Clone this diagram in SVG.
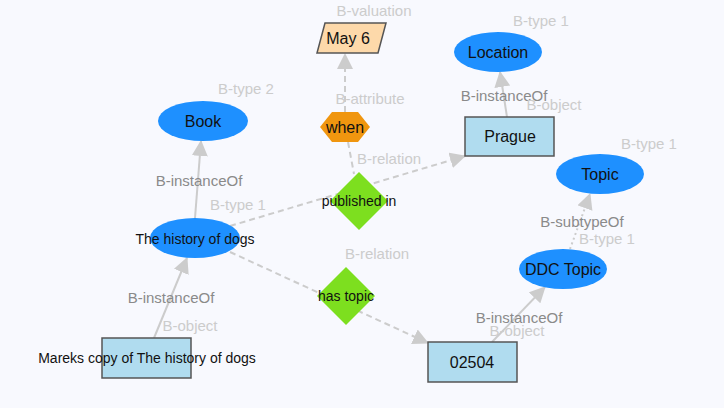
<svg xmlns="http://www.w3.org/2000/svg" width="724" height="408" viewBox="0 0 724 408">
<defs>
<marker id="ah" markerUnits="userSpaceOnUse" markerWidth="16" markerHeight="16" refX="15" refY="8" orient="auto" viewBox="0 0 16 16">
<path d="M0,0 L16,8 L0,16 z" fill="#cccccc"/>
</marker>
</defs>
<style>
text{font-family:"Liberation Sans",Arial,sans-serif;}
.nt{font-size:16px;fill:#111;text-anchor:middle;dominant-baseline:central;}
.st{font-size:14px;fill:#111;text-anchor:middle;dominant-baseline:central;}
.el{font-size:15px;fill:#8a8a8a;text-anchor:middle;dominant-baseline:central;}
.ll{font-size:15px;fill:#cccccc;text-anchor:middle;dominant-baseline:central;}
.ell{fill:#1e90ff;}
.box{fill:#b0dcef;stroke:#555;stroke-width:1.5;}
.solid{stroke:#cccccc;stroke-width:2;fill:none;}
.dash{stroke:#cccccc;stroke-width:2;fill:none;stroke-dasharray:6,4;}
.dot{stroke:#cccccc;stroke-width:2;fill:none;stroke-dasharray:2,3;}
</style>
<rect width="724" height="408" fill="#f8f9fe"/>
<g id="connectors">
<line class="dash" x1="345" y1="112" x2="345" y2="54" marker-end="url(#ah)"/>
<line class="dash" x1="348" y1="142" x2="354" y2="174"/>
<line class="solid" x1="507" y1="117" x2="500" y2="72" marker-end="url(#ah)"/>
<line class="solid" x1="195" y1="218" x2="201" y2="141" marker-end="url(#ah)"/>
<line class="dash" x1="230" y1="226" x2="465" y2="156" marker-end="url(#ah)"/>
<line class="dash" x1="230" y1="252" x2="428" y2="343" marker-end="url(#ah)"/>
<line class="solid" x1="154" y1="338" x2="187" y2="258" marker-end="url(#ah)"/>
<line class="dot" x1="570" y1="249" x2="590" y2="194" marker-end="url(#ah)"/>
<line class="solid" x1="492" y1="342" x2="545" y2="287" marker-end="url(#ah)"/>
<text class="ll" x="374" y="10">B-valuation</text>
<text class="ll" x="370" y="98">B-attribute</text>
<text class="ll" x="541" y="20">B-type 1</text>
<text class="el" x="504" y="95">B-instanceOf</text>
<text class="ll" x="554" y="104">B-object</text>
<text class="ll" x="246" y="88">B-type 2</text>
<text class="el" x="199" y="180">B-instanceOf</text>
<text class="ll" x="238" y="204">B-type 1</text>
<text class="ll" x="389" y="158">B-relation</text>
<text class="ll" x="377" y="253">B-relation</text>
<text class="ll" x="649" y="143">B-type 1</text>
<text class="el" x="582" y="221">B-subtypeOf</text>
<text class="ll" x="607" y="238">B-type 1</text>
<text class="el" x="171" y="297">B-instanceOf</text>
<text class="ll" x="190" y="325">B-object</text>
<text class="el" x="519" y="317">B-instanceOf</text>
<text class="ll" x="517" y="330">B-object</text>
</g>
<g id="may6">
<polygon points="325,23 386,23 378,53 317,53" fill="#fdd9aa" stroke="#555" stroke-width="1.5"/>
<text class="nt" x="348" y="38">May 6</text>
</g>
<g id="location">
<ellipse class="ell" cx="498" cy="52" rx="44" ry="20"/>
<text class="nt" x="498" y="52">Location</text>
</g>
<g id="prague">
<rect class="box" x="465" y="117" width="89" height="39"/>
<text class="nt" x="510" y="136">Prague</text>
</g>
<g id="book">
<ellipse class="ell" cx="203" cy="121" rx="45" ry="20"/>
<text class="nt" x="203" y="121">Book</text>
</g>
<g id="history">
<ellipse class="ell" cx="195" cy="238" rx="45" ry="20"/>
<text class="st" x="195" y="239">The history of dogs</text>
</g>
<g id="when">
<polygon points="320,127 332,112 358,112 370,127 358,142 332,142" fill="#f0960f"/>
<text class="nt" x="345" y="127">when</text>
</g>
<g id="publishedin">
<polygon points="359,172 388,201 359,230 330,201" fill="#7ddf1f"/>
<text class="st" x="359" y="201">published in</text>
</g>
<g id="hastopic">
<polygon points="346,267 375,296 346,325 317,296" fill="#7ddf1f"/>
<text class="st" x="346" y="296">has topic</text>
</g>
<g id="topic">
<ellipse class="ell" cx="600" cy="174" rx="44" ry="20"/>
<text class="nt" x="600" y="174">Topic</text>
</g>
<g id="ddctopic">
<ellipse class="ell" cx="563" cy="269" rx="44" ry="20"/>
<text class="nt" x="563" y="269">DDC Topic</text>
</g>
<g id="n02504">
<rect class="box" x="428" y="342" width="89" height="40"/>
<text class="nt" x="472" y="362">02504</text>
</g>
<g id="mareks">
<rect class="box" x="102" y="338" width="89" height="40"/>
<text class="st" x="147" y="358">Mareks copy of The history of dogs</text>
</g>
</svg>
